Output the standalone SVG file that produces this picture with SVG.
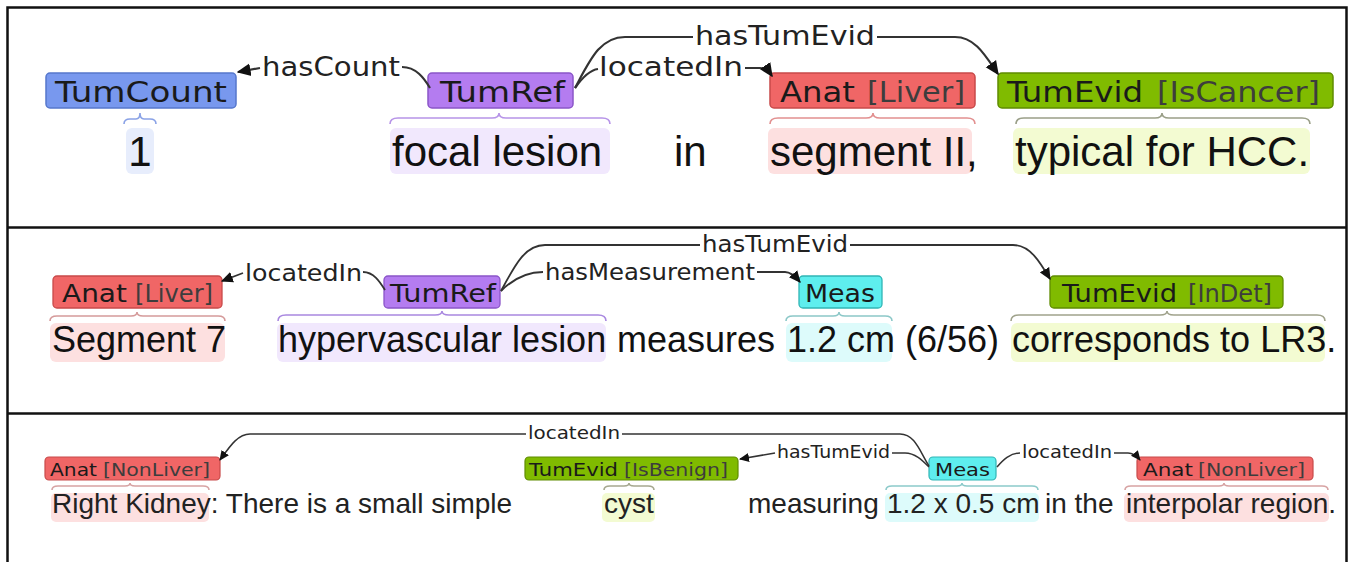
<svg xmlns="http://www.w3.org/2000/svg" width="1353" height="562" viewBox="0 0 1353 562">
<style>
.frame{fill:none;stroke:#111;stroke-width:2.5}
.sent{font-family:"Liberation Sans",Arial,sans-serif;fill:#111}
.s1{font-size:42px}.s2{font-size:36px}.s3{font-size:28px;fill:#222}
.lab{font-family:"DejaVu Sans",Verdana,sans-serif;fill:#1a1a1a}
.sub{fill:#3d3d3d}
.l1{font-size:29px}.l2{font-size:25px}.l3{font-size:18px}
.arc{font-family:"DejaVu Sans",Verdana,sans-serif;fill:#222}
.a1{font-size:27px}.a2{font-size:23px}.a3{font-size:17px}
.conn{fill:none;stroke:#333}
.c1{stroke-width:2.2}.c2{stroke-width:1.8}.c3{stroke-width:1.5}
.brace{fill:none;stroke-width:1.6}
.blue{fill:#7898ee;stroke:#5577cc}
.purple{fill:#b47cf0;stroke:#8a55c8}
.red{fill:#f06666;stroke:#c84a4a}
.green{fill:#80bb00;stroke:#5f8c00}
.cyan{fill:#5eeeee;stroke:#30b5b5}
.hblue{fill:#e7edfc}.hpurple{fill:#f1e8fd}.hred{fill:#fde0e0}.hgreen{fill:#f3fbd2}.hcyan{fill:#ddfbfb}
</style>
<defs>
<marker id="ah1" viewBox="0 0 10 10" refX="9" refY="5" markerWidth="14" markerHeight="14" markerUnits="userSpaceOnUse" orient="auto"><path d="M0,0.5 L10,5 L0,9.5 z" fill="#111"/></marker>
<marker id="ah2" viewBox="0 0 10 10" refX="9" refY="5" markerWidth="12" markerHeight="12" markerUnits="userSpaceOnUse" orient="auto"><path d="M0,0.5 L10,5 L0,9.5 z" fill="#111"/></marker>
<marker id="ah3" viewBox="0 0 10 10" refX="9" refY="5" markerWidth="10" markerHeight="10" markerUnits="userSpaceOnUse" orient="auto"><path d="M0,0.5 L10,5 L0,9.5 z" fill="#111"/></marker>
</defs>
<rect width="1353" height="562" fill="#fff"/>
<g id="frame">
<rect class="frame" x="7.5" y="7.5" width="1339" height="570"/>
<line class="frame" x1="7" y1="227.5" x2="1347" y2="227.5"/>
<line class="frame" x1="7" y1="413.5" x2="1347" y2="413.5"/>
</g>

<!-- Panel 1 -->
<g id="p1-text">
<rect class="hblue" x="126" y="128" width="28" height="46" rx="6"/>
<text class="sent s1" x="140" y="166" text-anchor="middle">1</text>
<rect class="hpurple" x="390" y="128" width="220" height="46" rx="6"/>
<text class="sent s1" x="392" y="166">focal lesion</text>
<text class="sent s1" x="674" y="166">in</text>
<rect class="hred" x="768" y="128" width="204" height="46" rx="6"/>
<text class="sent s1" x="770" y="166">segment II,</text>
<rect class="hgreen" x="1013" y="128" width="297" height="46" rx="6"/>
<text class="sent s1" x="1015" y="166">typical for HCC.</text>
</g>
<g id="p1-TumCount">
<rect class="blue" x="46" y="73" width="190" height="35" rx="4" stroke-width="1.5"/>
<text class="lab l1" x="55" y="102" textLength="172" lengthAdjust="spacingAndGlyphs">TumCount</text>
<path class="brace" stroke="#8aa2e6" d="M124 124 Q124 119 130 119 L136 119 Q140 119 140 113 Q140 119 144 119 L150 119 Q156 119 156 124"/>
</g>
<g id="p1-TumRef">
<rect class="purple" x="428" y="73" width="145" height="35" rx="4" stroke-width="1.5"/>
<text class="lab l1" x="440" y="102" textLength="125" lengthAdjust="spacingAndGlyphs">TumRef</text>
<path class="brace" stroke="#b794e8" d="M390 124 Q390 118 398 118 L492 118 Q499 118 499 113 Q499 118 506 118 L602 118 Q610 118 610 124"/>
</g>
<g id="p1-Anat">
<rect class="red" x="770" y="73" width="205" height="35" rx="4" stroke-width="1.5"/>
<text class="lab l1" x="780" y="102" textLength="75" lengthAdjust="spacingAndGlyphs">Anat</text>
<text class="lab l1 sub" x="867" y="102" textLength="98" lengthAdjust="spacingAndGlyphs">[Liver]</text>
<path class="brace" stroke="#e29090" d="M770 124 Q770 118 778 118 L866 118 Q873 118 873 113 Q873 118 880 118 L967 118 Q975 118 975 124"/>
</g>
<g id="p1-TumEvid">
<rect class="green" x="998" y="73" width="335" height="35" rx="4" stroke-width="1.5"/>
<text class="lab l1" x="1007" y="102" textLength="136" lengthAdjust="spacingAndGlyphs">TumEvid</text>
<text class="lab l1 sub" x="1157" y="102" textLength="163" lengthAdjust="spacingAndGlyphs">[IsCancer]</text>
<path class="brace" stroke="#9a9f88" d="M1016 124 Q1016 118 1024 118 L1155 118 Q1162 118 1162 113 Q1162 118 1169 118 L1302 118 Q1310 118 1310 124"/>
</g>
<g id="p1-connectors">
<path class="conn c1" marker-end="url(#ah1)" d="M260 68 L238 72"/>
<path class="conn c1" d="M402 67 C416 67 424 78 430 88"/>
<text class="arc a1" x="262" y="76" textLength="138" lengthAdjust="spacingAndGlyphs">hasCount</text>
<path class="conn c1" d="M575 88 C582 78 590 70 598 69"/>
<path class="conn c1" d="M575 88 C590 60 600 37 625 37 L693 37"/>
<text class="arc a1" x="599" y="76" textLength="144" lengthAdjust="spacingAndGlyphs">locatedIn</text>
<path class="conn c1" marker-end="url(#ah1)" d="M745 68 L760 68 C765 68 768 70 772 76"/>
<text class="arc a1" x="695" y="45" textLength="180" lengthAdjust="spacingAndGlyphs">hasTumEvid</text>
<path class="conn c1" marker-end="url(#ah1)" d="M877 37 L955 37 C975 37 985 55 998 74"/>
</g>

<!-- Panel 2 -->
<g id="p2-text">
<rect class="hred" x="50" y="323" width="175" height="39" rx="6"/>
<text class="sent s2" x="52" y="352">Segment 7</text>
<rect class="hpurple" x="277" y="323" width="329" height="39" rx="6"/>
<text class="sent s2" x="278" y="352">hypervascular lesion</text>
<text class="sent s2" x="617" y="352">measures</text>
<rect class="hcyan" x="786" y="323" width="106" height="39" rx="6"/>
<text class="sent s2" x="787" y="352">1.2 cm</text>
<text class="sent s2" x="905" y="352">(6/56)</text>
<rect class="hgreen" x="1011" y="323" width="314" height="39" rx="6"/>
<text class="sent s2" x="1012" y="352">corresponds to LR3.</text>
</g>
<g id="p2-Anat">
<rect class="red" x="53" y="276" width="169" height="32" rx="4" stroke-width="1.3"/>
<text class="lab l2" x="62" y="302" textLength="65" lengthAdjust="spacingAndGlyphs">Anat</text>
<text class="lab l2 sub" x="135" y="302" textLength="78" lengthAdjust="spacingAndGlyphs">[Liver]</text>
<path class="brace" stroke="#d59a9a" d="M50 321 Q50 316 57 316 L131 316 Q137 316 137 312 Q137 316 143 316 L218 316 Q225 316 225 321"/>
</g>
<g id="p2-TumRef">
<rect class="purple" x="384" y="276" width="116" height="32" rx="4" stroke-width="1.3"/>
<text class="lab l2" x="390" y="302" textLength="106" lengthAdjust="spacingAndGlyphs">TumRef</text>
<path class="brace" stroke="#a988e0" d="M278 321 Q278 315 286 315 L435 315 Q442 315 442 311 Q442 315 449 315 L598 315 Q606 315 606 321"/>
</g>
<g id="p2-Meas">
<rect class="cyan" x="799" y="276" width="83" height="32" rx="4" stroke-width="1.3"/>
<text class="lab l2" x="805" y="302" textLength="70" lengthAdjust="spacingAndGlyphs">Meas</text>
<path class="brace" stroke="#8cc8c8" d="M786 321 Q786 316 793 316 L833 316 Q839 316 839 312 Q839 316 845 316 L885 316 Q892 316 892 321"/>
</g>
<g id="p2-TumEvid">
<rect class="green" x="1050" y="276" width="233" height="32" rx="4" stroke-width="1.3"/>
<text class="lab l2" x="1062" y="302" textLength="115" lengthAdjust="spacingAndGlyphs">TumEvid</text>
<text class="lab l2 sub" x="1188" y="302" textLength="84" lengthAdjust="spacingAndGlyphs">[InDet]</text>
<path class="brace" stroke="#a0a38c" d="M1011 321 Q1011 315 1019 315 L1160 315 Q1167 315 1167 311 Q1167 315 1174 315 L1317 315 Q1325 315 1325 321"/>
</g>
<g id="p2-connectors">
<path class="conn c2" marker-end="url(#ah2)" d="M243 273 L222 281"/>
<text class="arc a2" x="245" y="281" textLength="117" lengthAdjust="spacingAndGlyphs">locatedIn</text>
<path class="conn c2" d="M363 272 C374 272 380 282 385 290"/>
<path class="conn c2" d="M501 291 C512 280 525 272 543 272"/>
<path class="conn c2" d="M501 291 C515 265 525 245 545 245 L700 245"/>
<text class="arc a2" x="545" y="280" textLength="210" lengthAdjust="spacingAndGlyphs">hasMeasurement</text>
<path class="conn c2" marker-end="url(#ah2)" d="M757 272 L785 272 C790 272 795 276 800 282"/>
<text class="arc a2" x="702" y="252" textLength="146" lengthAdjust="spacingAndGlyphs">hasTumEvid</text>
<path class="conn c2" marker-end="url(#ah2)" d="M850 245 L1013 245 C1030 245 1040 262 1050 279"/>
</g>

<!-- Panel 3 -->
<g id="p3-text">
<rect class="hred" x="51" y="493" width="158" height="29" rx="5"/>
<text class="sent s3" x="52" y="513">Right Kidney: There is a small simple</text>
<rect class="hgreen" x="602" y="493" width="53" height="29" rx="5"/>
<text class="sent s3" x="604" y="513">cyst</text>
<text class="sent s3" x="748" y="513">measuring</text>
<rect class="hcyan" x="885" y="493" width="154" height="29" rx="5"/>
<text class="sent s3" x="887" y="513">1.2 x 0.5 cm</text>
<text class="sent s3" x="1045" y="513">in the</text>
<rect class="hred" x="1124" y="493" width="205" height="29" rx="5"/>
<text class="sent s3" x="1126" y="513">interpolar region.</text>
</g>
<g id="p3-Anat1">
<rect class="red" x="45" y="457" width="175" height="23" rx="4" stroke-width="1.2"/>
<text class="lab l3" x="50" y="476" textLength="47" lengthAdjust="spacingAndGlyphs">Anat</text>
<text class="lab l3 sub" x="103" y="476" textLength="107" lengthAdjust="spacingAndGlyphs">[NonLiver]</text>
<path class="brace" stroke="#d7a3a3" d="M52 490 Q52 486 58 486 L125 486 Q130 486 130 483 Q130 486 135 486 L203 486 Q209 486 209 490"/>
</g>
<g id="p3-TumEvid">
<rect class="green" x="525" y="457" width="213" height="23" rx="4" stroke-width="1.2"/>
<text class="lab l3" x="529" y="476" textLength="89" lengthAdjust="spacingAndGlyphs">TumEvid</text>
<text class="lab l3 sub" x="624" y="476" textLength="104" lengthAdjust="spacingAndGlyphs">[IsBenign]</text>
<path class="brace" stroke="#a6a890" d="M604 490 Q604 486 610 486 L624 486 Q629 486 629 483 Q629 486 634 486 L648 486 Q654 486 654 490"/>
</g>
<g id="p3-Meas">
<rect class="cyan" x="929" y="457" width="67" height="23" rx="4" stroke-width="1.2"/>
<text class="lab l3" x="935" y="476" textLength="55" lengthAdjust="spacingAndGlyphs">Meas</text>
<path class="brace" stroke="#8ccaca" d="M886 490 Q886 486 892 486 L957 486 Q962 486 962 483 Q962 486 967 486 L1032 486 Q1038 486 1038 490"/>
</g>
<g id="p3-Anat2">
<rect class="red" x="1137" y="457" width="176" height="23" rx="4" stroke-width="1.2"/>
<text class="lab l3" x="1143" y="476" textLength="50" lengthAdjust="spacingAndGlyphs">Anat</text>
<text class="lab l3 sub" x="1198" y="476" textLength="107" lengthAdjust="spacingAndGlyphs">[NonLiver]</text>
<path class="brace" stroke="#d7a3a3" d="M1125 490 Q1125 486 1131 486 L1219 486 Q1224 486 1224 483 Q1224 486 1229 486 L1322 486 Q1328 486 1328 490"/>
</g>
<g id="p3-connectors">
<path class="conn c3" marker-end="url(#ah3)" d="M526 434 L250 434 C238 434 230 446 220 460"/>
<text class="arc a3" x="528" y="439" textLength="92" lengthAdjust="spacingAndGlyphs">locatedIn</text>
<path class="conn c3" d="M622 434 L900 434 C915 434 920 452 929 466"/>
<path class="conn c3" marker-end="url(#ah3)" d="M775 453 L740 459"/>
<text class="arc a3" x="777" y="458" textLength="113" lengthAdjust="spacingAndGlyphs">hasTumEvid</text>
<path class="conn c3" d="M892 453 L905 453 C915 453 922 460 929 467"/>
<path class="conn c3" d="M997 467 C1003 460 1010 453 1020 453"/>
<text class="arc a3" x="1022" y="458" textLength="90" lengthAdjust="spacingAndGlyphs">locatedIn</text>
<path class="conn c3" marker-end="url(#ah3)" d="M1114 453 L1128 453 C1133 453 1136 455 1140 460"/>
</g>
</svg>
